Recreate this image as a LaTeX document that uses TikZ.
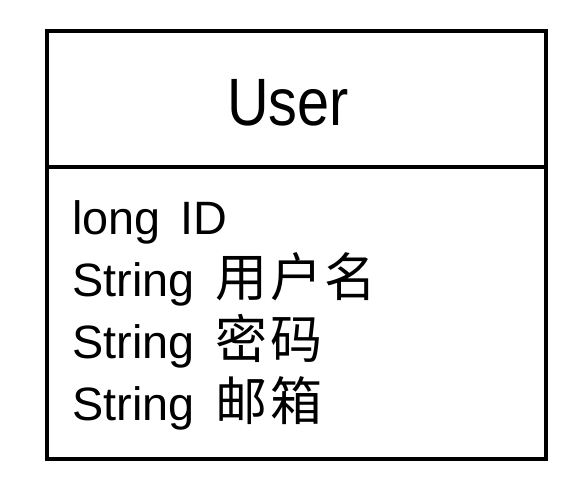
\documentclass[tikz,border=0pt]{standalone}
\usepackage{fontspec}
\setmainfont{Liberation Sans}
\newfontfamily\latbody{Liberation Sans}
\newfontfamily\lattitle[FakeStretch=0.86]{Liberation Sans}
\newfontfamily\cjkbody[LetterSpace=5]{Noto Sans CJK SC}
\begin{document}
\begin{tikzpicture}[x=1pt,y=-1pt,
  frame/.style={draw=black,line width=4pt},
  title/.style={font=\lattitle\fontsize{67}{70}\selectfont,inner sep=0pt},
  attr/.style={font=\latbody\fontsize{46.8}{62}\selectfont,inner sep=0pt,anchor=base west}]
\useasboundingbox[fill=white] (0,0) rectangle (582,488);
\node[frame,minimum width=499pt,minimum height=428pt,anchor=north west,inner sep=0pt] (box) at (45,29) {};
\coordinate (dl) at (45,167);
\coordinate (dr) at (544,167);
\draw[frame] (dl) -- (dr);
\node[title,anchor=base] (name) at (288,125) {User};
\node[attr] (a1) at (72,234) {long\hspace{20pt}ID};
\node[attr] (a2) at (72,296) {String\hspace{21pt}{\cjkbody\fontsize{52}{62}\selectfont 用户名}};
\node[attr] (a3) at (72,358) {String\hspace{21pt}{\cjkbody\fontsize{52}{62}\selectfont 密码}};
\node[attr] (a4) at (72,420) {String\hspace{21pt}{\cjkbody\fontsize{52}{62}\selectfont 邮箱}};
\end{tikzpicture}
\end{document}
